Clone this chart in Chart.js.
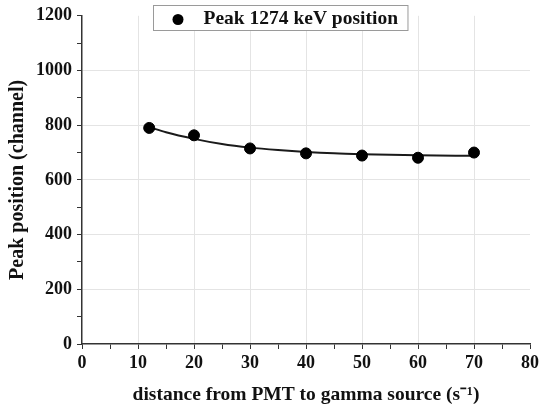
<!DOCTYPE html>
<html>
<head>
<meta charset="utf-8">
<script src="https://cdn.jsdelivr.net/npm/chart.js@4/dist/chart.umd.min.js"></script>
<style>
  html, body { margin: 0; padding: 0; background: #fff; }
  #wrap { width: 543px; height: 419px; }
</style>
</head>
<body>
<div id="wrap"><canvas id="c"></canvas></div>
<script>
const distances = [12, 20, 30, 40, 50, 60, 70];
const peakPositions = [790, 763, 715, 697, 689, 681, 700];
const fitX = [12, 15, 20, 25, 30, 35, 40, 45, 50, 60, 70];
const fitY = [793, 774, 750, 731, 718, 709, 702, 697, 694, 690, 688];
const seriesLabel = 'Peak 1274 keV position';
const xTitle = 'distance from PMT to gamma source (s\u207B\u00B9)';
const yTitle = 'Peak position (channel)';

const FONT = "'Liberation Serif', 'Times New Roman', serif";

// Legend drawn inside the plot, overlapping its top edge, with a grey frame.
const boxedLegend = {
  id: 'boxedLegend',
  afterDraw(chart) {
    const ca = chart.chartArea;
    const ctx = chart.ctx;
    const ds = chart.data.datasets[0];
    ctx.save();
    ctx.font = 'bold 19.5px ' + FONT;
    const textW = ctx.measureText(ds.label).width;
    const w = 50 + textW + 10;
    const h = 25;
    const cx = (ca.left + ca.right) / 2 - 26;
    const left = Math.round(cx - w / 2) + 0.5;
    const top = Math.round(ca.top - 11) + 0.5;
    ctx.fillStyle = '#fff';
    ctx.fillRect(left, top, w, h);
    ctx.strokeStyle = '#9a9a9a';
    ctx.lineWidth = 1;
    ctx.strokeRect(left, top, w, h);
    ctx.fillStyle = '#000';
    ctx.beginPath();
    ctx.arc(left + 24.5, top + h / 2 + 1.5, 5.5, 0, Math.PI * 2);
    ctx.fill();
    ctx.fillStyle = '#111';
    ctx.textBaseline = 'middle';
    ctx.textAlign = 'left';
    ctx.fillText(ds.label, left + 50, top + h / 2 + 1);
    ctx.restore();
  }
};

new Chart(document.getElementById('c'), {
  type: 'scatter',
  data: {
    datasets: [
      {
        label: seriesLabel,
        data: distances.map((x, i) => ({ x, y: peakPositions[i] })),
        backgroundColor: '#000',
        borderColor: '#000',
        pointRadius: 5.5,
        pointStyle: 'circle',
        showLine: false,
        order: 1
      },
      {
        label: 'fit',
        data: fitX.map((x, i) => ({ x, y: fitY[i] })),
        showLine: true,
        borderColor: '#1a1a1a',
        borderWidth: 2,
        pointRadius: 0,
        cubicInterpolationMode: 'monotone',
        order: 2
      }
    ]
  },
  options: {
    responsive: true,
    maintainAspectRatio: false,
    animation: false,
    layout: { padding: { left: 6, right: 12, top: 15, bottom: 12 } },
    plugins: {
      tooltip: { enabled: false },
      legend: { display: false }
    },
    scales: {
      x: {
        type: 'linear',
        min: 0, max: 80,
        border: { display: true, color: '#333', width: 1.5 },
        grid: {
          color: (c) => (c.tick && c.tick.value % 10 === 0 && c.tick.value > 0 && c.tick.value < 80) ? '#e4e4e4' : 'rgba(0,0,0,0)',
          tickColor: '#333',
          tickLength: 5,
          lineWidth: 1
        },
        ticks: {
          stepSize: 5,
          autoSkip: false,
          maxRotation: 0,
          padding: 4,
          color: '#111',
          font: { family: FONT, size: 18, weight: 'bold' },
          callback: (v) => (v % 10 === 0 ? v : '')
        },
        title: {
          display: true,
          text: xTitle,
          color: '#111',
          font: { family: FONT, size: 19.5, weight: 'bold' },
          padding: { top: 5, bottom: 0 }
        }
      },
      y: {
        type: 'linear',
        min: 0, max: 1200,
        border: { display: true, color: '#333', width: 1.5 },
        grid: {
          color: (c) => (c.tick && c.tick.value % 200 === 0 && c.tick.value > 0 && c.tick.value < 1200) ? '#e4e4e4' : 'rgba(0,0,0,0)',
          tickColor: '#333',
          tickLength: 5,
          lineWidth: 1
        },
        ticks: {
          stepSize: 100,
          autoSkip: false,
          padding: 5,
          color: '#111',
          font: { family: FONT, size: 18, weight: 'bold' },
          callback: (v) => (v % 200 === 0 ? v : '')
        },
        title: {
          display: true,
          text: yTitle,
          color: '#111',
          font: { family: FONT, size: 20, weight: 'bold' },
          padding: { top: 0, bottom: 1 }
        }
      }
    }
  },
  plugins: [boxedLegend]
});
</script>
</body>
</html>
